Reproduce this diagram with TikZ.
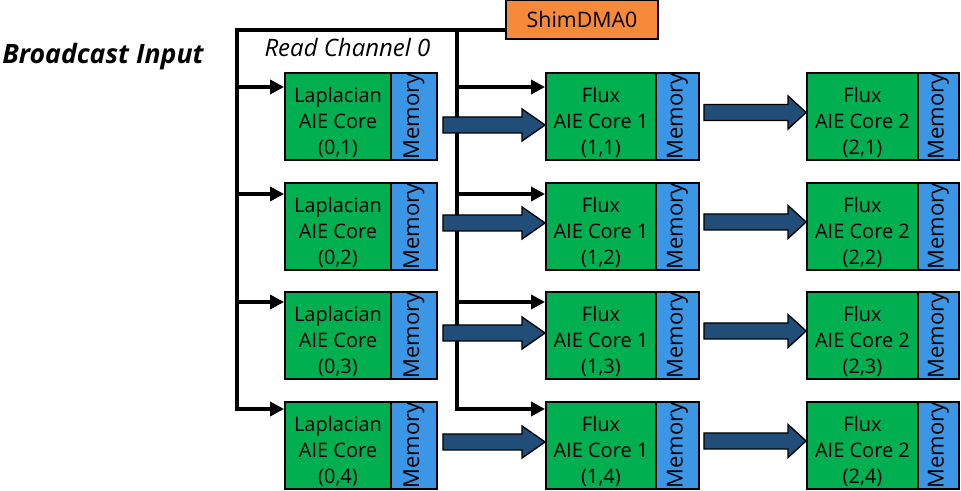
\documentclass[tikz,border=0pt]{standalone}
\usepackage{fontspec}
\usepackage{graphicx}
\setmainfont{Open Sans}
\usetikzlibrary{calc,arrows.meta}

\definecolor{coregreen}{RGB}{0,176,80}
\definecolor{memblue}{RGB}{59,150,230}
\definecolor{shimorange}{RGB}{247,137,58}
\definecolor{streamblue}{RGB}{33,78,121}

% thick stream arrow between two nodes at height #3 (pixels):
% #4 half shaft, #5 half head, #6 head length, #7 start gap
\newcommand\streamarrow[7]{%
  \path (#1.east |- 0,#3) coordinate (sa-s) (#2.west |- 0,#3) coordinate (sa-e);
  \filldraw[stream] ($(sa-s)+(#7,-#4)$) -- ($(sa-e)+(-#6,-#4)$) -- ($(sa-e)+(-#6,-#5)$)
    -- (sa-e) -- ($(sa-e)+(-#6,#5)$) -- ($(sa-e)+(-#6,#4)$) -- ($(sa-s)+(#7,#4)$) -- cycle;
}

% three-line core caption, set slightly below the box centre
\newcommand\corelabel[3]{\raisebox{-8.5pt}[0pt][0pt]{\begin{tabular}{@{}c@{}}#1\\#2\\#3\end{tabular}}}

\begin{document}
\begin{tikzpicture}[x=0.75pt,y=-0.75pt,
  boxfont/.style={font=\fontsize{15}{19.5}\selectfont},
  core/.style={draw=black, line width=1.4pt, fill=coregreen, inner sep=0pt,
    boxfont, minimum height=65.25pt},
  mem/.style={draw=black, line width=1.4pt, fill=memblue, inner sep=0pt,
    font=\fontsize{16.5}{19}\selectfont, minimum height=65.25pt},
  wire/.style={line width=3pt, draw=black},
  tip/.style={-{Triangle[length=10.5pt,width=10.5pt]}},
  stream/.style={fill=streamblue, draw=black, line width=1pt, line join=miter},
]
\useasboundingbox (0,0) rectangle (961,491);

% DMA source
\node[draw=black, line width=1.2pt, fill=shimorange, minimum width=114pt,
  minimum height=29.25pt, inner sep=0pt, font=\fontsize{16}{18}\selectfont]
  (shim) at (582,19.5) {ShimDMA0};

% labels
\node[font=\fontsize{20}{23}\selectfont\bfseries\itshape] (bcast) at (103,57) {Broadcast Input};
\node[font=\fontsize{18}{20}\selectfont\itshape] (rch) at (347.5,48) {Read Channel 0};

% tiles
\foreach \r/\T in {1/116.5, 2/226.5, 3/335.5, 4/445.5}{
  \node[core, minimum width=79.5pt] (lap\r) at (338,\T) {\corelabel{Laplacian}{AIE Core}{(0,\r)}};
  \node[mem, minimum width=34.5pt] (lapm\r) at (414,\T) {\rotatebox{90}{Memory}};
  \node[core, minimum width=82.5pt] (fa\r) at (601,\T) {\corelabel{Flux}{AIE Core 1}{(1,\r)}};
  \node[mem, minimum width=32.25pt] (fam\r) at (677.5,\T) {\rotatebox{90}{Memory}};
  \node[core, minimum width=83.25pt] (fb\r) at (862.5,\T) {\corelabel{Flux}{AIE Core 2}{(2,\r)}};
  \node[mem, minimum width=30.75pt] (fbm\r) at (938.5,\T) {\rotatebox{90}{Memory}};
}

% broadcast buses
\coordinate (topL) at (237,30);
\coordinate (topR) at (457,30);
\draw[wire, tip] (shim.west |- topL) -- (topL) |- (lap4.west |- 0,409);
\draw[wire, tip] (topR) |- (fa4.west |- 0,409);
\foreach \r/\y in {1/87, 2/194, 3/302}{
  \coordinate (tl\r) at (topL |- 0,\y);
  \coordinate (tr\r) at (topR |- 0,\y);
  \draw[wire, tip] (tl\r) -- (lap\r.west |- tl\r);
  \draw[wire, tip] (tr\r) -- (fa\r.west |- tr\r);
}

% stream arrows between tiles
\foreach \r/\ya/\yb in {1/125/112.5, 2/223/222, 3/333/331, 4/442/441}{
  \streamarrow{lapm\r}{fa\r}{\ya}{8}{16}{23}{5}
  \streamarrow{fam\r}{fb\r}{\yb}{8}{16.5}{18}{4}
}
\end{tikzpicture}
\end{document}
